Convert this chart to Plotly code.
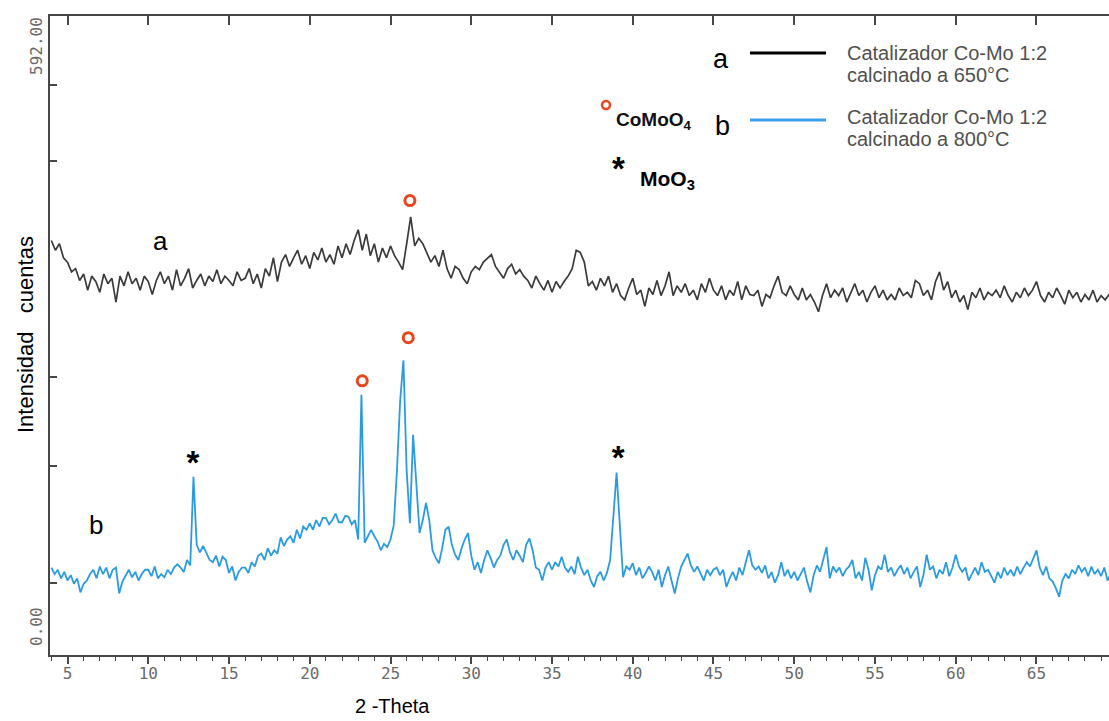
import numpy as np
import plotly.graph_objects as go

# ---------------- data ----------------
# 2-Theta sampling grids
theta_a = np.linspace(4.0, 69.75, 264)   # step 0.25
theta_b = np.linspace(4.0, 69.8, 330)    # step 0.2

# Trace a: Catalizador Co-Mo 1:2 calcinado a 650°C (counts)
counts_a = [
    384, 375, 381, 368,  364, 355, 358, 347,  353, 338, 351, 346,  336, 353, 344, 349,
    327, 351, 342, 355,  344, 349, 338, 351,  346, 334, 347, 355,  344, 351, 338, 357,
    342, 349, 358, 340,  347, 353, 342, 351,  346, 357, 344, 351,  347, 342, 355, 347,
    349, 358, 344, 353,  340, 358, 351, 368,  346, 364, 371, 360,  368, 375, 362, 370,
    358, 373, 366, 377,  364, 371, 362, 379,  368, 381, 371, 384,  394, 375, 390, 370,
    381, 364, 377, 368,  379, 370, 364, 357,  381, 406, 379, 386,  381, 373, 364, 370,
    360, 375, 358, 349,  360, 357, 349, 344,  355, 360, 357, 364,  368, 371, 360, 355,
    349, 358, 362, 353,  357, 351, 347, 340,  351, 344, 338, 347,  336, 346, 340, 346,
    351, 358, 375, 373,  364, 342, 346, 338,  349, 342, 351, 336,  344, 333, 329, 340,
    349, 334, 338, 323,  340, 334, 347, 333,  342, 355, 333, 342,  336, 344, 333, 338,
    329, 344, 336, 349,  338, 333, 342, 329,  338, 333, 346, 329,  342, 334, 333, 338,
    323, 334, 331, 342,  351, 336, 333, 342,  334, 329, 340, 329,  334, 327, 318, 333,
    344, 331, 338, 333,  340, 327, 336, 344,  333, 338, 327, 336,  342, 331, 338, 329,
    334, 329, 340, 333,  336, 331, 347, 344,  333, 338, 329, 346,  355, 338, 346, 331,
    338, 327, 333, 320,  336, 331, 340, 329,  336, 333, 338, 331,  342, 333, 327, 336,
    331, 340, 333, 338,  346, 333, 327, 336,  331, 340, 333, 325,  338, 331, 336, 327,
    334, 329, 338, 327,  333, 329, 334, 333,
]

# Trace b: Catalizador Co-Mo 1:2 calcinado a 800°C (counts)
counts_b = [
    81, 75, 79, 71, 77,   69, 74, 66, 71, 58,   66, 69, 75, 79, 71,   82, 75, 81, 71, 79,
    81, 57, 68, 73, 79,   72, 77, 69, 75, 79,   79, 73, 82, 71, 75,   72, 79, 75, 81, 84,
    81, 77, 88, 83, 165,  102, 95, 101, 94, 88,  86, 92, 82, 91, 88,  76, 82, 69, 77, 81,
    81, 76, 86, 82, 92,   94, 88, 99, 92, 97,   94, 109, 101, 107, 110,  104, 116, 108, 119, 116,
    122, 116, 125, 119, 127,  127, 121, 125, 131, 123,  123, 129, 128, 121, 125,  107, 241, 104, 110, 116,
    110, 105, 97, 103, 100,  107, 120, 171, 236, 273,  171, 122, 204, 153, 113,  125, 141, 125, 97, 90,
    85, 99, 116, 119, 102,  93, 88, 99, 107, 113,  92, 79, 86, 76, 88,  97, 90, 81, 88, 92,
    102, 107, 95, 88, 97,  92, 86, 102, 108, 97,  81, 79, 69, 81, 86,  79, 86, 82, 91, 81,
    77, 82, 75, 91, 81,  74, 79, 69, 63, 73,  77, 69, 76, 88, 125,  169, 120, 72, 82, 79,
    85, 74, 81, 71, 76,  82, 77, 69, 79, 63,  74, 82, 69, 57, 71,  82, 88, 94, 83, 77,
    82, 75, 69, 79, 74,  79, 81, 74, 79, 63,  71, 77, 69, 81, 74,  86, 97, 83, 79, 82,
    76, 83, 71, 77, 67,  74, 86, 73, 79, 71,  77, 69, 75, 81, 68,  58, 74, 83, 77, 88,
    100, 71, 82, 77, 81,  73, 79, 82, 88, 71,  77, 69, 90, 79, 60,  74, 82, 79, 93, 77,
    81, 73, 79, 83, 75,  81, 71, 77, 82, 63,  74, 93, 79, 82, 71,  79, 75, 86, 73, 81,
    93, 82, 77, 81, 69,  75, 81, 74, 86, 77,  79, 73, 67, 77, 71,  81, 74, 79, 73, 82,
    75, 81, 86, 82, 90,  97, 81, 74, 82, 71,  68, 62, 54, 69, 75,  71, 79, 75, 83, 77,
    81, 73, 82, 75, 79,  73, 81, 69, 75, 71,
]

# Peak markers (2-Theta, label height in counts)
como4_theta = [26.2, 23.25, 26.1]
como4_level = [421, 254, 294]
moo3_theta = [12.77, 39.1]
moo3_level = [175, 180]

x_ticks = [5, 10, 15, 20, 25, 30, 35, 40, 45, 50, 55, 60, 65]
y_ticks = [67, 175, 258, 458, 528]
y_range = [0, 592]
y_end_labels = ["0.00", "592.00"]
x_range = [3.916, 69.49]

# ---------------- figure ----------------
BLACK_LINE = "#3b3b3b"
BLUE_LINE = "#2b9be0"
RED = "#e8461e"
AXIS = "#474747"
TICKFONT = dict(family="DejaVu Sans Mono", size=16, color="#6a6a6a")

fig = go.Figure()
fig.add_trace(go.Scatter(x=theta_a, y=counts_a, mode="lines",
                         line=dict(color=BLACK_LINE, width=1.7), showlegend=False))
fig.add_trace(go.Scatter(x=theta_b, y=counts_b, mode="lines",
                         line=dict(color=BLUE_LINE, width=1.8), showlegend=False))
fig.add_trace(go.Scatter(x=como4_theta, y=como4_level, mode="markers",
                         marker=dict(symbol="circle-open", size=10, color=RED,
                                     line=dict(width=3, color=RED)),
                         showlegend=False))
fig.add_trace(go.Scatter(x=moo3_theta, y=moo3_level, mode="text",
                         text=["<b>*</b>"] * len(moo3_theta),
                         textposition="middle center",
                         textfont=dict(family="Arial", size=33, color="black"),
                         showlegend=False))
# dummy trace for the top axis
fig.add_trace(go.Scatter(x=[None], y=[None], xaxis="x2", showlegend=False))

W, H = 1109, 721
L, R, T, B = 50, 0, 16, 66
PW, PH = W - L - R, H - T - B


def pxx(xp):
    return (xp - L) / PW


def pxy(yp):
    return (H - B - yp) / PH


fig.update_layout(
    width=W, height=H,
    margin=dict(l=L, r=R, t=T, b=B, pad=0),
    paper_bgcolor="white", plot_bgcolor="white",
    xaxis=dict(range=x_range, tickmode="array", tickvals=x_ticks,
               ticks="outside", ticklen=7, tickwidth=1.5, tickcolor=AXIS,
               ticklabelstandoff=-4,
               showline=True, linecolor=AXIS, linewidth=1.5,
               showgrid=False, zeroline=False, tickfont=TICKFONT,
               minor=dict(tickmode="linear", tick0=0, dtick=1, ticks="outside",
                          ticklen=4, tickwidth=1.2, tickcolor=AXIS, showgrid=False)),
    xaxis2=dict(range=x_range, overlaying="x", side="top", tickmode="array",
                tickvals=x_ticks, ticks="inside", ticklen=9, tickwidth=1.5,
                tickcolor=AXIS, showline=True, linecolor=AXIS, linewidth=1.5,
                showticklabels=False, showgrid=False, zeroline=False),
    yaxis=dict(range=y_range, tickmode="array", tickvals=y_ticks,
               ticks="inside", ticklen=7, tickwidth=1.5, tickcolor=AXIS,
               showticklabels=False, showline=True, linecolor=AXIS, linewidth=1.5,
               showgrid=False, zeroline=False),
)

ann = []
# axis end labels
ann.append(dict(text=y_end_labels[1], xref="paper", yref="paper", x=pxx(36), y=pxy(46),
                textangle=-90, showarrow=False, font=TICKFONT,
                xanchor="center", yanchor="middle"))
ann.append(dict(text=y_end_labels[0], xref="paper", yref="paper", x=pxx(36), y=pxy(627),
                textangle=-90, showarrow=False, font=TICKFONT,
                xanchor="center", yanchor="middle"))
# axis titles
ann.append(dict(text="Intensidad&nbsp;&nbsp; cuentas", xref="paper", yref="paper",
                x=pxx(25), y=pxy(335), textangle=-90, showarrow=False,
                font=dict(family="Arial", size=22, color="black"),
                xanchor="center", yanchor="middle"))
ann.append(dict(text="2 -Theta", xref="paper", yref="paper", x=pxx(392), y=pxy(706),
                showarrow=False, font=dict(family="Arial", size=20, color="black"),
                xanchor="center", yanchor="middle"))
# curve labels
ann.append(dict(text="a", xref="paper", yref="paper", x=pxx(160), y=pxy(241),
                showarrow=False, font=dict(family="Arial", size=26, color="black"),
                xanchor="center", yanchor="middle"))
ann.append(dict(text="b", xref="paper", yref="paper", x=pxx(96), y=pxy(525),
                showarrow=False, font=dict(family="Arial", size=26, color="black"),
                xanchor="center", yanchor="middle"))
# legend block
ann.append(dict(text="a", xref="paper", yref="paper", x=pxx(721), y=pxy(59),
                showarrow=False, font=dict(family="Arial", size=27, color="black"),
                xanchor="center", yanchor="middle"))
ann.append(dict(text="b", xref="paper", yref="paper", x=pxx(722), y=pxy(126),
                showarrow=False, font=dict(family="Arial", size=27, color="black"),
                xanchor="center", yanchor="middle"))
LEG_FONT = dict(family="Arial", size=20, color="#505050")
for txt, yy in [("Catalizador Co-Mo 1:2", 53), ("calcinado a 650°C", 75),
                ("Catalizador Co-Mo 1:2", 117), ("calcinado a 800°C", 139)]:
    ann.append(dict(text=txt, xref="paper", yref="paper", x=pxx(845), y=pxy(yy),
                    showarrow=False, font=LEG_FONT, xanchor="left", yanchor="middle"))
ann.append(dict(text="<b>CoMoO<sub>4</sub></b>", xref="paper", yref="paper", x=pxx(614), y=pxy(121),
                showarrow=False, font=dict(family="Arial", size=19, color="#111111"),
                xanchor="left", yanchor="middle"))
ann.append(dict(text="<b>*</b>", xref="paper", yref="paper", x=pxx(618), y=pxy(168),
                showarrow=False, font=dict(family="Arial", size=33, color="black"),
                xanchor="center", yanchor="middle"))
ann.append(dict(text="<b>MoO<sub>3</sub></b>", xref="paper", yref="paper", x=pxx(638), y=pxy(180),
                showarrow=False, font=dict(family="Arial", size=21, color="black"),
                xanchor="left", yanchor="middle"))
fig.update_layout(annotations=ann)

# legend swatches and the legend circle
fig.add_shape(type="line", xref="paper", yref="paper", x0=pxx(750), x1=pxx(826),
              y0=pxy(53), y1=pxy(53), line=dict(color="black", width=3))
fig.add_shape(type="line", xref="paper", yref="paper", x0=pxx(750), x1=pxx(826),
              y0=pxy(120), y1=pxy(120), line=dict(color="#3ea0ea", width=3))
fig.add_shape(type="circle", xref="paper", yref="paper", x0=pxx(602), x1=pxx(610),
              y0=pxy(101), y1=pxy(109), line=dict(color=RED, width=2.5))

fig.write_html("out.html", config={"displayModeBar": False},
               post_script="document.body.style.margin='0px';document.body.style.padding='0px';")
